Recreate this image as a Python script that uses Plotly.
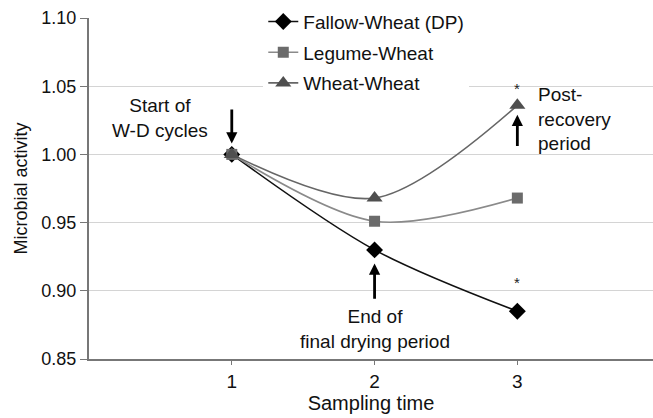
import plotly.graph_objects as go

sampling_time = [1, 2, 3]
fallow_wheat = [1.000, 0.930, 0.885]
legume_wheat = [1.000, 0.951, 0.968]
wheat_wheat = [1.000, 0.968, 1.036]
y_ticks = [0.85, 0.90, 0.95, 1.00, 1.05, 1.10]

FONT = "Liberation Sans, Arial, sans-serif"

fig = go.Figure()
series = [
    ("Fallow-Wheat (DP)", fallow_wheat, "#000000", "#111111", "diamond", 13),
    ("Legume-Wheat", legume_wheat, "#6b6b6b", "#8a8a8a", "square", 11),
    ("Wheat-Wheat", wheat_wheat, "#4f4f4f", "#666666", "triangle-up", 14),
]
for i, (name, vals, mcol, lcol, sym, size) in enumerate(series):
    fig.add_trace(go.Scatter(
        x=sampling_time, y=vals, name=name, mode="lines+markers",
        line=dict(color=lcol, width=1.6, shape="spline", smoothing=0.9),
        marker=dict(symbol=sym, size=size, color=mcol),
        legendgroup=f"g{i}",
    ))

ann_font = dict(family=FONT, size=19, color="#111")
annotations = [
    # significance stars above the last sampling point
    dict(x=sampling_time[2], y=wheat_wheat[2], text="*", showarrow=False,
         yshift=17, font=dict(family=FONT, size=15, color="#222")),
    dict(x=sampling_time[2], y=fallow_wheat[2], text="*", showarrow=False,
         yshift=29, font=dict(family=FONT, size=15, color="#222")),
    dict(x=0.5, y=1.027, text="Start of<br>W-D cycles", showarrow=False,
         xref="x", yref="y", font=ann_font, align="center"),
    dict(x=2, y=0.872, text="End of<br>final drying period", showarrow=False,
         xref="x", yref="y", font=ann_font, align="center"),
    dict(x=3.13, y=1.026, text="Post-<br>recovery<br>period", showarrow=False,
         xref="x", yref="y", font=ann_font, align="left", xanchor="left"),
    # arrows
    dict(x=1, y=1.008, ax=1, ay=1.034, xref="x", yref="y", axref="x", ayref="y",
         showarrow=True, arrowhead=2, arrowwidth=2.8, arrowsize=0.8, arrowcolor="#000", text=""),
    dict(x=2, y=0.920, ax=2, ay=0.893, xref="x", yref="y", axref="x", ayref="y",
         showarrow=True, arrowhead=2, arrowwidth=2.8, arrowsize=0.8, arrowcolor="#000", text=""),
    dict(x=3, y=1.029, ax=3, ay=1.005, xref="x", yref="y", axref="x", ayref="y",
         showarrow=True, arrowhead=2, arrowwidth=2.8, arrowsize=0.8, arrowcolor="#000", text=""),
]

fig.update_layout(
    width=653, height=418,
    margin=dict(l=89, r=0, t=18, b=59),
    paper_bgcolor="white", plot_bgcolor="white",
    font=dict(family=FONT, size=19, color="#111"),
    showlegend=True,
    legend=dict(x=0.309, y=1.045, xanchor="left", yanchor="top",
                bgcolor="white", borderwidth=0, tracegroupgap=3,
                font=dict(family=FONT, size=19, color="#111"),
                itemwidth=30),
    annotations=annotations,
    xaxis=dict(range=[0, 3.95], tickvals=sampling_time, ticktext=["1", "2", "3"],
               showgrid=False, zeroline=False, showline=True, linecolor="#777",
               linewidth=2, ticks="outside", ticklen=4, tickcolor="#777",
               title=dict(text="Sampling time", font=dict(size=20), standoff=5),
               tickfont=dict(size=19)),
    yaxis=dict(range=[0.85, 1.10], tickvals=y_ticks,
               ticktext=[f"{v:.2f}" for v in y_ticks],
               showgrid=True, gridcolor="#d4d4d4", gridwidth=1.2,
               zeroline=False, showline=True, linecolor="#777", linewidth=2,
               ticks="outside", ticklen=7, tickcolor="#777",
               title=dict(text="Microbial activity", font=dict(size=18), standoff=9),
               tickfont=dict(size=18)),
)

fig.write_html("out.html")
